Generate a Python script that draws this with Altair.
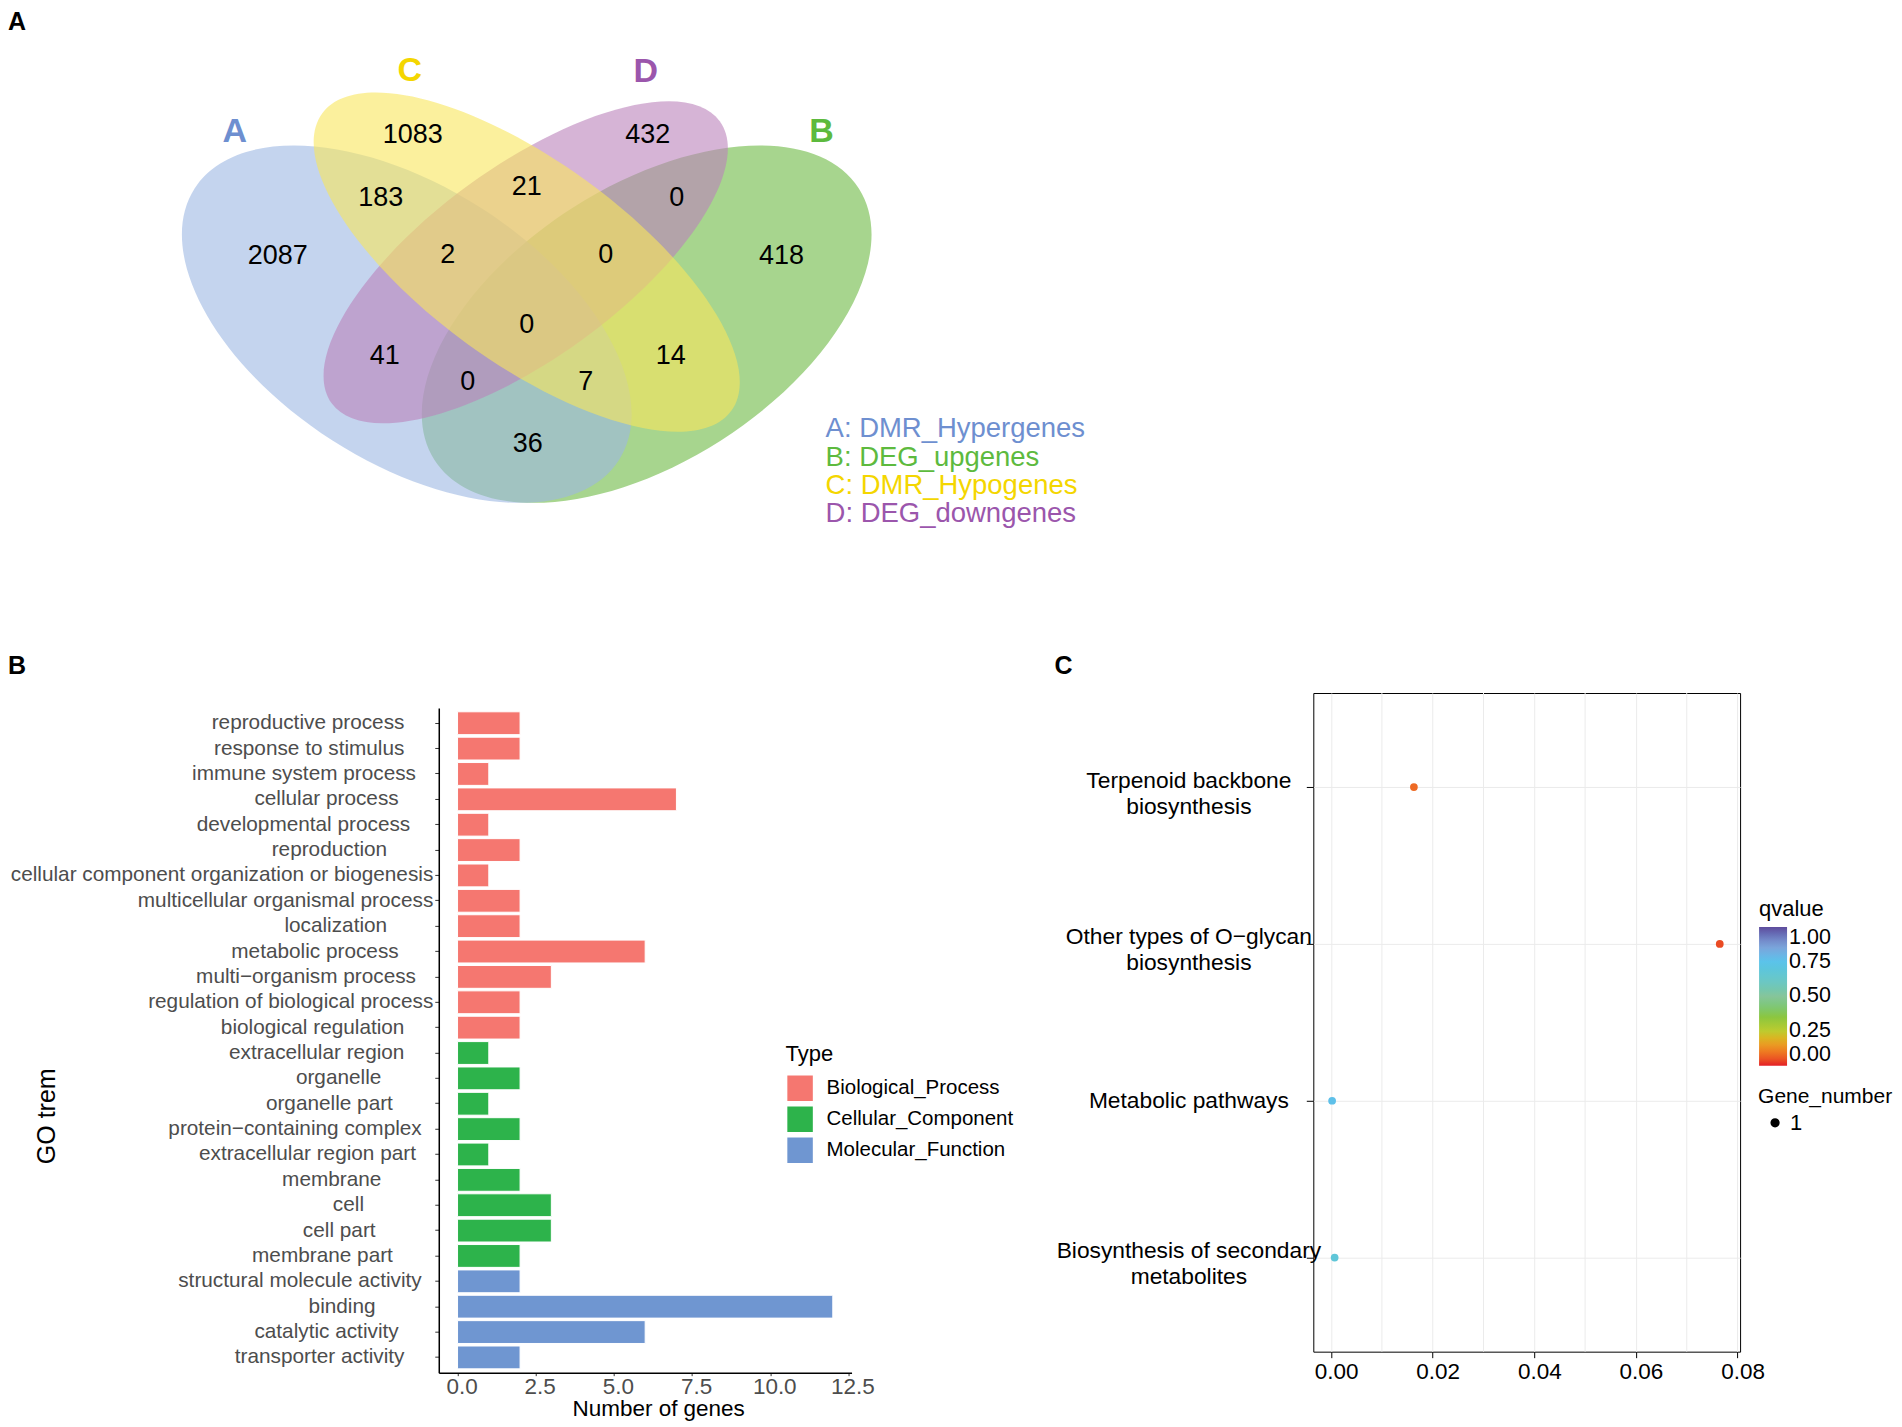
import altair as alt
import pandas as pd

FONT = "Liberation Sans"

# ---------------- Panel A : Venn diagram ----------------
SET_IDS = ["A", "B", "C", "D"]
SET_NAMES = ["DMR_Hypergenes", "DEG_upgenes", "DMR_Hypogenes", "DEG_downgenes"]
SET_COLORS = ["#6E8FD0", "#5DBA3E", "#F4D600", "#9B56AC"]

REGION_COUNTS = [2087, 1083, 432, 418, 183, 21, 0, 2, 0, 0, 41, 14, 0, 7, 36]
REGION_X = [278, 413, 648, 782, 381, 527, 677, 448, 606, 527, 385, 671, 468, 586, 528]
REGION_Y = [256, 135, 135, 256, 198, 187, 198, 255, 255, 325, 356, 356, 382, 382, 444]

# ellipse layout (drawing order B, A, D, C)
ELL_SET = ["B", "A", "D", "C"]
ELL_FILLS = ["#6CB943", "#9DB7E3", "#BB82BB", "#F8E65C"]
ELL_CX = [647, 407, 526, 527]
ELL_CY = [324, 324, 262, 262]
ELL_A = [252, 252, 240, 253]
ELL_B = [138, 138, 96, 101]
ELL_ANGLE = [327.4, 32.6, 324, 36]

SETLABEL_X = [235, 822, 410, 646]
SETLABEL_Y = [132, 132, 71, 72]

LEGEND_X = 826
LEGEND_Y = [429, 458, 486, 514]

PANEL_LETTERS = ["A", "B", "C"]
PANEL_X = [8, 8, 1055]
PANEL_Y = [10, 654, 654]

# ---------------- Panel B : GO bar chart ----------------
GO_TERMS = [
    "reproductive process", "response to stimulus", "immune system process",
    "cellular process", "developmental process", "reproduction",
    "cellular component organization or biogenesis",
    "multicellular organismal process", "localization", "metabolic process",
    "multi\u2212organism process", "regulation of biological process",
    "biological regulation", "extracellular region", "organelle",
    "organelle part", "protein\u2212containing complex",
    "extracellular region part", "membrane", "cell", "cell part",
    "membrane part", "structural molecule activity", "binding",
    "catalytic activity", "transporter activity",
]
GO_COUNTS = [2, 2, 1, 7, 1, 2, 1, 2, 2, 6, 3, 2, 2, 1, 2, 1, 2, 1, 2, 3, 3, 2, 2, 12, 6, 2]
GO_TYPES = (["Biological_Process"] * 13 + ["Cellular_Component"] * 9
            + ["Molecular_Function"] * 4)
TYPE_NAMES = ["Biological_Process", "Cellular_Component", "Molecular_Function"]
TYPE_COLORS = ["#F57770", "#2DB34B", "#6F96D1"]
LABEL_PAD = [5, 5, 3, 6, 4, 8, 0, 0, 8, 6, 3, 0, 5, 5, 9, 7, 2, 3, 9, 12, 10, 7, 2, 10, 6, 5]
B_TICKS = [0, 2.5, 5, 7.5, 10, 12.5]

# ---------------- Panel C : KEGG dot plot ----------------
KEGG_TERMS = [
    "Terpenoid backbone\nbiosynthesis",
    "Other types of O\u2212glycan\nbiosynthesis",
    "Metabolic pathways",
    "Biosynthesis of secondary\nmetabolites",
]
KEGG_RICH = [0.0163, 0.0765, 0.0002, 0.0007]
KEGG_QVALUE = [0.08, 0.04, 0.76, 0.68]
KEGG_GENES = [1, 1, 1, 1]
C_TICKS = [0, 0.02, 0.04, 0.06, 0.08]
C_MINOR = [0.01, 0.03, 0.05, 0.07]
Q_STOPS = [0, 0.08, 0.17, 0.25, 0.35, 0.5, 0.62, 0.75, 0.87, 1.0]
Q_COLORS = ["#E41E26", "#EE6A24", "#E8A628", "#BDCB2F", "#8CC63F",
            "#86C59A", "#6BC7C9", "#5BC3EA", "#7F9FD6", "#5E4B9C"]


def ellipse_path(r):
    k = 0.5523
    return (f"M 1 0 C 1 {k*r:.4f} {k:.4f} {r:.4f} 0 {r:.4f} "
            f"C {-k:.4f} {r:.4f} -1 {k*r:.4f} -1 0 "
            f"C -1 {-k*r:.4f} {-k:.4f} {-r:.4f} 0 {-r:.4f} "
            f"C {k:.4f} {-r:.4f} 1 {-k*r:.4f} 1 0 Z")


# ---------- Venn layers ----------
VX = alt.Scale(domain=[0, 1902], range=[-439, 1463], nice=False, zero=False)
VY = alt.Scale(domain=[0, 1427], range=[-8, 1419], nice=False, zero=False)


def vx(f):
    return alt.X(f, type="quantitative", scale=VX, axis=None)


def vy(f):
    return alt.Y(f, type="quantitative", scale=VY, axis=None)


ell_df = pd.DataFrame({
    "set": ELL_SET, "x": ELL_CX, "y": ELL_CY, "fill": ELL_FILLS,
    "size": [4 * a * a for a in ELL_A], "angle": ELL_ANGLE,
})
ELL_PATHS = [ellipse_path(b / a) for a, b in zip(ELL_A, ELL_B)]

ellipses = alt.Chart(ell_df).mark_point(filled=True, opacity=0.6, strokeWidth=0).encode(
    x=vx("x"), y=vy("y"),
    shape=alt.Shape("set:N", scale=alt.Scale(domain=ELL_SET, range=ELL_PATHS), legend=None),
    size=alt.Size("size:Q", scale=None, legend=None),
    angle=alt.Angle("angle:Q", scale=None),
    color=alt.Color("fill:N", scale=None, legend=None),
)

reg_df = pd.DataFrame({"x": REGION_X, "y": REGION_Y,
                       "t": [str(c) for c in REGION_COUNTS]})
reg_text = alt.Chart(reg_df).mark_text(fontSize=27, color="black", baseline="middle").encode(
    x=vx("x"), y=vy("y"), text="t:N")

set_df = pd.DataFrame({"id": SET_IDS, "x": SETLABEL_X, "y": SETLABEL_Y, "col": SET_COLORS})
set_text = alt.Chart(set_df).mark_text(fontSize=34, fontWeight="bold", baseline="middle").encode(
    x=vx("x"), y=vy("y"), text="id:N",
    color=alt.Color("col:N", scale=None, legend=None))

leg_df = pd.DataFrame({"x": [LEGEND_X] * 4, "y": LEGEND_Y, "col": SET_COLORS,
                       "t": [f"{i}: {n}" for i, n in zip(SET_IDS, SET_NAMES)]})
leg_text = alt.Chart(leg_df).mark_text(fontSize=27.5, align="left", baseline="middle").encode(
    x=vx("x"), y=vy("y"), text="t:N",
    color=alt.Color("col:N", scale=None, legend=None))

let_df = pd.DataFrame({"t": PANEL_LETTERS, "x": PANEL_X, "y": PANEL_Y})
letters = alt.Chart(let_df).mark_text(fontSize=25, fontWeight="bold", align="left",
                                      baseline="top", color="black").encode(
    x=vx("x"), y=vy("y"), text="t:N")

venn = alt.layer(ellipses, reg_text, set_text, leg_text, letters).properties(width=1000, height=685)

# ---------- Bar chart ----------
# trailing no-break spaces (kept by a zero-width end mark) reproduce the ragged label ends
bar_labels = [t + ("\u00a0" * p + "\u200b" if p else "") for t, p in zip(GO_TERMS, LABEL_PAD)]
bar_df = pd.DataFrame({"label": bar_labels, "count": GO_COUNTS, "type": GO_TYPES})

bars = alt.Chart(bar_df).mark_bar(stroke="white", strokeWidth=1).encode(
    x=alt.X("count:Q",
            scale=alt.Scale(domain=[-0.6, 12.6], nice=False, zero=False),
            axis=alt.Axis(values=B_TICKS, format=".1f", title="Number of genes",
                          labelFontSize=22.5, labelColor="#4D4D4D", tickColor="#333333",
                          tickSize=3, labelPadding=0, labelOffset=4,
                          domainColor="black", domainWidth=1.5,
                          grid=False, titleFontSize=22.5, titleFontWeight="normal",
                          titleColor="black", titleX=219.5, titleY=36,
                          titleBaseline="middle")),
    y=alt.Y("label:N", sort=None,
            scale=alt.Scale(domain=bar_labels, range=[15, 680],
                            paddingInner=0.1, paddingOuter=0.15),
            axis=alt.Axis(title="GO trem", labelFontSize=20.8, labelColor="#4D4D4D",
                          labelLimit=1000, tickSize=4, labelPadding=2, tickColor="#333333",
                          domainColor="black", domainWidth=1.5, titleX=-392, titleY=423,
                          titleAngle=270, titleBaseline="middle", titleFontSize=25,
                          titleFontWeight="normal", titleColor="black")),
    color=alt.Color("type:N", scale=alt.Scale(domain=TYPE_NAMES, range=TYPE_COLORS),
                    legend=alt.Legend(title="Type", orient="none", legendX=347, legendY=351,
                                      symbolType="square", symbolSize=729,
                                      labelFontSize=20.5, titleFontSize=22,
                                      titleFontWeight="normal", rowPadding=-3,
                                      labelOffset=12, titlePadding=8, labelLimit=400,
                                      labelColor="black", titleColor="black")),
).properties(width=413, height=680)

# ---------- Dot chart ----------
kegg_df = pd.DataFrame({"term": KEGG_TERMS, "rich": KEGG_RICH,
                        "qvalue": KEGG_QVALUE, "Gene_number": KEGG_GENES})
grid_df = pd.DataFrame({"g": C_MINOR})
XC = alt.Scale(domain=[-0.0035, 0.0805], nice=False, zero=False)
XC_AXIS = alt.Axis(values=C_TICKS, format=".2f", title=None, labelFontSize=22.5,
                   labelColor="black", tickColor="black", tickSize=6, labelPadding=3,
                   labelOffset=5, domain=False, grid=True, gridColor="#EBEBEB")

minor = alt.Chart(grid_df).mark_rule(color="#EBEBEB", strokeWidth=1).encode(
    x=alt.X("g:Q", scale=XC, axis=XC_AXIS))

points = alt.Chart(kegg_df).mark_circle(opacity=1).encode(
    x=alt.X("rich:Q", scale=XC, axis=XC_AXIS),
    y=alt.Y("term:N", sort=None, scale=alt.Scale(domain=KEGG_TERMS, padding=0.6),
            axis=alt.Axis(title=None, labelExpr="split(datum.label, '\\n')",
                          labelAlign="center", labelBaseline="middle", labelPadding=118,
                          labelOffset={"condition": {"test": "indexof(datum.value, '\\n') >= 0",
                                                     "value": -7},
                                       "value": 0},
                          labelLineHeight=26, tickSize=7, tickColor="black",
                          labelFontSize=22.8, labelColor="black", labelLimit=1000,
                          domain=False, grid=True, gridColor="#EBEBEB")),
    color=alt.Color("qvalue:Q", scale=alt.Scale(domain=Q_STOPS, range=Q_COLORS),
                    legend=alt.Legend(title="qvalue", orient="none", legendX=446, legendY=206,
                                      gradientLength=139, gradientThickness=28,
                                      values=[0, 0.25, 0.5, 0.75, 1], format=".2f",
                                      labelFontSize=21.5, titleFontSize=22,
                                      titleFontWeight="normal", labelColor="black",
                                      titleColor="black", labelOffset=2, titlePadding=6,
                                      direction="vertical")),
    size=alt.Size("Gene_number:O", scale=alt.Scale(range=[60, 60]),
                  legend=alt.Legend(title="Gene_number", orient="none", legendX=445,
                                    legendY=393, type="symbol",
                                    titleFontSize=21, labelFontSize=22,
                                    titleFontWeight="normal", symbolFillColor="black",
                                    symbolStrokeColor="black", symbolOffset=6,
                                    labelOffset=4, titlePadding=5,
                                    labelColor="black", titleColor="black")),
)

dot = alt.layer(minor, points).properties(
    width=427, height=659,
    view=alt.ViewBackground(stroke="black", strokeWidth=1))

bottom = alt.hconcat(bars, dot, spacing=462, bounds="flush").resolve_scale(
    color="independent", size="independent")

chart = alt.vconcat(venn, bottom, spacing=0, bounds="flush").resolve_scale(
    color="independent", size="independent", shape="independent"
).properties(padding=0).configure(font=FONT).configure_view(stroke=None)

chart.save("out.html", embed_options={"renderer": "svg", "actions": False})
